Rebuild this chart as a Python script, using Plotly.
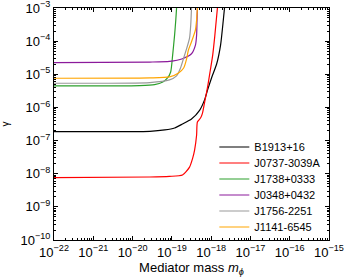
import plotly.graph_objects as go

# log10(mediator mass) and log10(gamma)
names = ["B1913+16", "J0737-3039A", "J1738+0333", "J0348+0432", "J1756-2251", "J1141-6545"]
colors = ["#000000", "#ff0000", "#2ca02c", "#8b1a9b", "#999999", "#ffa500"]

b1913_logm = [-22, -19.56, -19.18, -18.93, -18.73, -18.50, -18.29, -18.17, -18.09, -17.99, -17.86, -17.76, -17.69, -17.66]
b1913_logg = [-6.73, -6.72, -6.68, -6.62, -6.50, -6.35, -6.08, -5.78, -5.47, -5.11, -4.69, -4.12, -3.36, -3.0]

j0737_logm = [-22, -19.56, -19.06, -18.73, -18.55, -18.47, -18.42, -18.37, -18.35, -18.27, -18.22, -18.17, -18.09, -18.02, -17.96, -17.91, -17.84]
j0737_logg = [-8.12, -8.10, -8.08, -8.04, -7.80, -7.53, -7.28, -6.83, -6.44, -6.32, -6.17, -5.87, -5.38, -4.87, -4.42, -3.88, -3.0]

j1738_logm = [-22, -19.82, -19.44, -19.23, -19.11, -19.03, -18.98, -18.93, -18.90, -18.88]
j1738_logg = [-5.35, -5.34, -5.31, -5.23, -5.11, -4.93, -4.42, -3.81, -3.36, -3.0]

j0348_logm = [-22, -19.56, -19.06, -18.73, -18.50, -18.40, -18.37, -18.36, -18.35]
j0348_logg = [-4.65, -4.63, -4.61, -4.53, -4.38, -4.12, -3.82, -3.40, -3.0]

j1756_logm = [-22, -19.56, -19.06, -18.88, -18.78, -18.70, -18.62, -18.55, -18.52, -18.50]
j1756_logg = [-5.27, -5.25, -5.17, -5.05, -4.81, -4.51, -4.21, -3.91, -3.52, -3.0]

j1141_logm = [-22, -19.56, -19.06, -18.83, -18.70, -18.62, -18.58, -18.50, -18.40, -18.37, -18.35]
j1141_logg = [-5.12, -5.11, -5.08, -4.96, -4.81, -4.51, -4.27, -4.02, -3.66, -3.36, -3.0]

series_logm = [b1913_logm, j0737_logm, j1738_logm, j0348_logm, j1756_logm, j1141_logm]
series_logg = [b1913_logg, j0737_logg, j1738_logg, j0348_logg, j1756_logg, j1141_logg]

x_exps = list(range(-22, -14))
y_exps = list(range(-10, -2))

def sup(e):
    return "10<sup>" + str(e).replace("-", "\u2212") + "</sup>"

W, H = 349, 277
ML, MR, MT, MB = 54, 20, 8, 37
plot_h = H - MT - MB

fig = go.Figure()
legend_layouts = {}
for i, (name, col, lm, lg) in enumerate(zip(names, colors, series_logm, series_logg)):
    lname = "legend" if i == 0 else f"legend{i + 1}"
    fig.add_trace(go.Scatter(
        x=[10.0 ** v for v in lm], y=[10.0 ** v for v in lg],
        mode="lines", name=name, legend=lname,
        line=dict(color=col, width=1.2, shape="spline", smoothing=0.6),
    ))
    yc = 147 + 16 * i  # vertical centre of legend row, pixels from top
    legend_layouts[lname] = dict(
        x=0.583, y=(H - MB - yc) / plot_h, xanchor="left", yanchor="middle",
        bgcolor="rgba(0,0,0,0)", font=dict(size=11, color="black"),
        itemwidth=30, borderwidth=0,
    )

axis_common = dict(
    type="log", showgrid=False, zeroline=False, automargin=False,
    showline=True, linecolor="black", linewidth=1, mirror="ticks",
    ticks="inside", ticklen=4, tickcolor="black", tickwidth=1,
    minor=dict(ticks="inside", ticklen=2, tickcolor="black", dtick="D1", showgrid=False),
    tickfont=dict(size=13, color="black"), ticklabeloverflow="allow",
)

fig.update_xaxes(
    range=[-22.0005, -14.9995],
    tickvals=[10.0 ** e for e in x_exps], ticktext=[sup(e) for e in x_exps],
    title=dict(text="Mediator mass <i>m</i><sub><i>\u03d5</i></sub>", font=dict(size=13, color="black")),
    **axis_common,
)
fig.update_yaxes(
    range=[-10.0005, -2.9995],
    tickvals=[10.0 ** e for e in y_exps], ticktext=[sup(e) for e in y_exps],
    title=dict(text="\u03b3", font=dict(size=10, color="black")),
    **axis_common,
)

fig.update_layout(
    width=W, height=H,
    margin=dict(l=ML, r=MR, t=MT, b=MB, autoexpand=False),
    paper_bgcolor="white", plot_bgcolor="white",
    font=dict(family="Liberation Sans, Arial, sans-serif", color="black"),
    showlegend=True,
    **legend_layouts,
)

fig.write_html("out.html", config={"displayModeBar": False},
               post_script="document.body.style.margin='0';")
